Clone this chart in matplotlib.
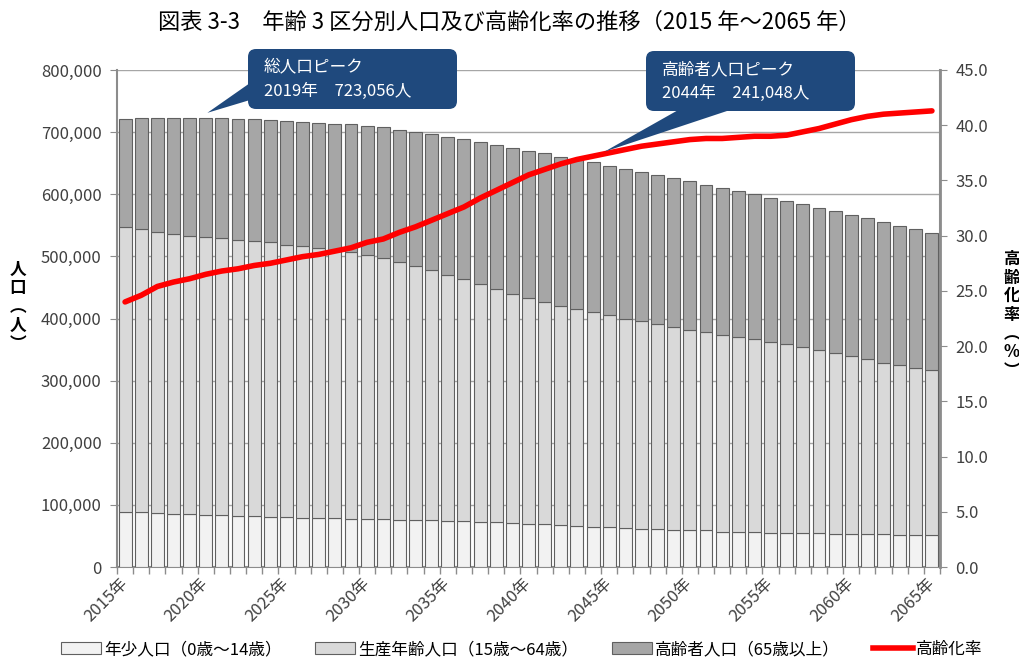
"""
Figure: 年齢3区分別人口及び高齢化率の推移 (2015-2065)
Output: out.png
"""
import matplotlib
matplotlib.use("Agg")
import matplotlib.pyplot as plt
import matplotlib.ticker as mticker
from matplotlib.patches import Patch, FancyBboxPatch, Polygon
from matplotlib.lines import Line2D
import numpy as np

plt.rcParams.update({
    "font.family": ["Noto Sans CJK JP", "DejaVu Sans"],
    "font.size":   12,
    "axes.unicode_minus": False,
})

# Data (persons, thousands)
years = list(range(2015, 2066))
young = [89.0, 88.0, 86.4, 85.8, 84.8, 84.2, 83.2, 82.6, 81.6, 80.0,
         80.0, 78.4, 78.4, 78.4, 77.3, 76.8, 76.8, 76.1, 75.1, 75.1,
         73.5, 73.5, 71.9, 71.9, 70.3, 69.7, 68.7, 67.1, 66.0, 64.9,
         63.9, 62.8, 61.7, 60.7, 60.1, 59.1, 59.0, 56.8, 56.8, 55.8,
         55.2, 54.7, 54.2, 54.2, 53.1, 52.6, 52.6, 52.6, 51.0, 51.0, 51.0]
working = [458.8, 455.5, 453.3, 450.7, 448.5, 447.5, 445.8, 444.3, 443.1, 442.6,
           438.8, 437.7, 434.5, 431.6, 429.2, 424.9, 420.1, 414.3, 409.4, 402.5,
           397.0, 389.6, 383.6, 375.1, 369.1, 362.8, 357.4, 353.5, 348.8, 345.5,
           341.0, 337.1, 333.8, 330.3, 326.3, 322.9, 318.8, 317.2, 313.7, 310.9,
           307.3, 304.0, 300.4, 295.3, 291.5, 287.0, 281.7, 276.3, 273.5, 269.5, 265.5]
elderly = [173.3, 178.8, 183.3, 186.4, 189.8, 191.2, 193.5, 194.9, 196.5, 197.2,
           199.5, 200.2, 202.1, 203.6, 205.9, 208.7, 210.8, 213.5, 215.5, 219.4,
           222.2, 225.3, 228.1, 232.3, 235.0, 237.6, 239.8, 239.9, 240.3, 241.0,
           240.6, 240.2, 239.8, 239.5, 239.2, 238.8, 237.6, 235.5, 234.2, 233.2,
           231.5, 230.4, 229.2, 228.4, 227.9, 227.5, 227.0, 225.9, 224.4, 223.0, 220.6]
aging_rate = [24.0, 24.6, 25.4, 25.8, 26.1, 26.5, 26.8, 27.0, 27.3, 27.5,
              27.8, 28.1, 28.3, 28.6, 28.9, 29.4, 29.7, 30.3, 30.8, 31.4,
              32.0, 32.6, 33.4, 34.1, 34.8, 35.5, 36.0, 36.5, 36.9, 37.2,
              37.5, 37.8, 38.1, 38.3, 38.5, 38.7, 38.8, 38.8, 38.9, 39.0,
              39.0, 39.1, 39.4, 39.7, 40.1, 40.5, 40.8, 41.0, 41.1, 41.2, 41.3]

series_labels = ["年少人口（0歳～14歳）", "生産年齢人口（15歳～64歳）",
                 "高齢者人口（65歳以上）", "高齢化率"]
callout_total = ("総人口ピーク", "2019年　723,056人", 2019, 723056)
callout_elder = ("高齢者人口ピーク", "2044年　241,048人", 2044, 241048)

C_YOUNG   = "#f2f2f2"
C_WORKING = "#d9d9d9"
C_ELDER   = "#a6a6a6"
C_EDGE    = "#606060"
C_RATE    = "#ff0000"
C_BOX     = "#1f497d"
C_AXIS    = "#8c8c8c"
C_TEXT    = "#404040"

young_p   = np.array(young) * 1000
working_p = np.array(working) * 1000
elderly_p = np.array(elderly) * 1000
x = np.arange(len(years))

fig = plt.figure(figsize=(10.19, 6.65), dpi=100)
ax = fig.add_axes([117 / 1019, 1 - 567 / 665, 823 / 1019, 497 / 665])

bar_kw = dict(width=0.8, edgecolor=C_EDGE, linewidth=0.8, zorder=3)
ax.bar(x, young_p, color=C_YOUNG, **bar_kw)
ax.bar(x, working_p, bottom=young_p, color=C_WORKING, **bar_kw)
ax.bar(x, elderly_p, bottom=young_p + working_p, color=C_ELDER, **bar_kw)

ax.set_xlim(-0.5, len(years) - 0.5)
ax.set_ylim(0, 800000)
ax.yaxis.set_major_locator(mticker.MultipleLocator(100000))
ax.yaxis.set_major_formatter(mticker.FuncFormatter(lambda v, p: f"{int(v):,}"))
ax.yaxis.grid(True, color="#a6a6a6", linewidth=1.0, zorder=0)
ax.set_axisbelow(True)

label_idx = [i for i, y in enumerate(years) if y % 5 == 0]
ax.set_xticks(label_idx)
ax.set_xticklabels([f"{years[i]}年" for i in label_idx], rotation=45,
                   ha="right", va="center", rotation_mode="anchor")
ax.set_xticks(np.arange(-0.5, len(years)), minor=True)
ax.tick_params(axis="x", which="major", length=0, pad=10, labelsize=12, labelcolor=C_TEXT)
ax.tick_params(axis="x", which="minor", length=5, color=C_AXIS, width=1)
ax.tick_params(axis="y", length=5, color=C_AXIS, labelsize=12, labelcolor=C_TEXT, pad=6)

for side in ("top",):
    ax.spines[side].set_visible(False)
for side in ("left", "bottom", "right"):
    ax.spines[side].set_color(C_AXIS)
    ax.spines[side].set_linewidth(1.5)

ax2 = ax.twinx()
ax2.plot(x, aging_rate, color=C_RATE, linewidth=4, solid_capstyle="round", zorder=5)
ax2.set_ylim(0, 45)
ax2.yaxis.set_major_locator(mticker.MultipleLocator(5))
ax2.yaxis.set_major_formatter(mticker.FormatStrFormatter("%.1f"))
ax2.tick_params(axis="y", length=5, color=C_AXIS, labelsize=12, labelcolor=C_TEXT, pad=6)
for side in ("top", "left", "bottom"):
    ax2.spines[side].set_visible(False)
ax2.spines["right"].set_color(C_AXIS)
ax2.spines["right"].set_linewidth(2)

# Axis titles (stacked vertical text)
fig.text(18 / 1019, 1 - 307 / 665, "\n".join("人口︵人︶"), ha="center", va="center",
         fontsize=12, fontweight="bold", linespacing=1.05)
fig.text(1012 / 1019, 1 - 315 / 665, "\n".join("高齢化率︵%︶"), ha="center", va="center",
         fontsize=12, fontweight="bold", linespacing=1.05)

fig.text(0.5, 1 - 22 / 665,
         "図表 3-3　年齢 3 区分別人口及び高齢化率の推移（2015 年～2065 年）",
         ha="center", va="center", fontsize=16)

# Callouts, drawn on a pixel overlay
ov = fig.add_axes([0, 0, 1, 1], zorder=10)
ov.set_xlim(0, 1019)
ov.set_ylim(0, 665)
ov.axis("off")
ov.patch.set_alpha(0)


def callout(lines, box, tail_base, tip):
    x0, y0, w, h = box
    ov.add_patch(FancyBboxPatch((x0 + 8, y0 + 8), w - 16, h - 16,
                                boxstyle="round,pad=8", facecolor=C_BOX,
                                edgecolor="none"))
    ov.add_patch(Polygon([tail_base[0], tip, tail_base[1]], closed=True,
                         facecolor=C_BOX, edgecolor="none"))
    ov.text(x0 + 16, y0 + h - 19, lines[0], color="white", fontsize=12, va="center")
    ov.text(x0 + 16, y0 + h - 42, lines[1], color="white", fontsize=12, va="center")


tip1 = ax.transData.transform((years.index(callout_total[2]) + 1.1, callout_total[3] + 8000))
callout(callout_total, (248, 665 - 109, 209, 60),
        [(250, 665 - 83), (250, 665 - 100)], tip1)
tip2 = ax2.transData.transform((years.index(callout_elder[2]) + 0.7, 37.6))
callout(callout_elder, (646, 665 - 111, 209, 60),
        [(680, 665 - 109), (733, 665 - 109)], tip2)

handles = [
    Patch(facecolor=C_YOUNG, edgecolor=C_EDGE, linewidth=0.8),
    Patch(facecolor=C_WORKING, edgecolor=C_EDGE, linewidth=0.8),
    Patch(facecolor=C_ELDER, edgecolor=C_EDGE, linewidth=0.8),
    Line2D([0], [0], color=C_RATE, linewidth=4),
]
fig.legend(handles, series_labels, loc="lower center", bbox_to_anchor=(0.512, -0.012),
           ncol=4, frameon=False, fontsize=12, handlelength=2.4, handleheight=0.7,
           columnspacing=2.0, handletextpad=0.2)

fig.savefig("out.png", dpi=100)
plt.close(fig)
